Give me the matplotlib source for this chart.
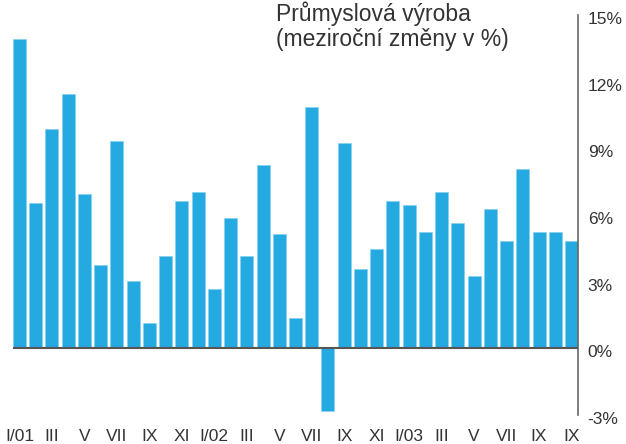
import matplotlib.pyplot as plt
import matplotlib.transforms as mtransforms

# měsíční hodnoty I/2001 - XI/2003
values = [13.9, 6.55, 9.85, 11.45, 6.95, 3.75, 9.35, 3.05, 1.15, 4.15,
          6.65, 7.05, 2.65, 5.85, 4.15, 8.25, 5.15, 1.35, 10.85, -2.8,
          9.25, 3.55, 4.45, 6.65, 6.45, 5.25, 7.05, 5.65, 3.25, 6.25,
          4.85, 8.05, 5.25, 5.25, 4.85]
tick_labels = ['I/01', 'III', 'V', 'VII', 'IX', 'XI',
               'I/02', 'III', 'V', 'VII', 'IX', 'XI',
               'I/03', 'III', 'V', 'VII', 'IX', 'IX']
y_ticks = [-3, 0, 3, 6, 9, 12, 15]

plt.rcParams['font.family'] = ['Liberation Sans', 'DejaVu Sans']
text_color = '#333333'

fig = plt.figure(figsize=(6.26, 4.44), dpi=100)
ax = fig.add_axes([13 / 626, 1 - 415 / 444, (578 - 13) / 626, 400 / 444])

x = list(range(len(values)))
ax.bar(x, values, width=0.8, color='#24a9e0', edgecolor='#7fd0f0', linewidth=0.4)
ax.axhline(0, color='#555555', linewidth=1.5, zorder=3)

ax.set_xlim(-0.4, len(values) - 0.6)
ax.set_ylim(-3, 15)

for s in ['top', 'left', 'bottom']:
    ax.spines[s].set_visible(False)
ax.spines['right'].set_color('#666666')
ax.spines['right'].set_linewidth(1.2)

ax.yaxis.tick_right()
ax.set_yticks(y_ticks)
ax.set_yticklabels([f'{v}%' for v in y_ticks])
ax.set_xticks(x[::2])
ax.set_xticklabels(tick_labels)
ax.tick_params(axis='y', length=0, pad=7, labelsize=12.5, labelcolor=text_color)
ax.tick_params(axis='x', length=0, pad=10, labelsize=12.5, labelcolor=text_color)

# popisky osy y jsou v originale o kousek niz
shift = mtransforms.ScaledTranslation(0, -3 / 100, fig.dpi_scale_trans)
for lab in ax.get_yticklabels():
    lab.set_transform(lab.get_transform() + shift)

fig.text(276 / 626, 1 - 1 / 444, 'Průmyslová výroba\n(meziroční změny v %)',
         ha='left', va='top', fontsize=16.5, color=text_color, linespacing=1.15)

fig.savefig('out.png', dpi=100)
